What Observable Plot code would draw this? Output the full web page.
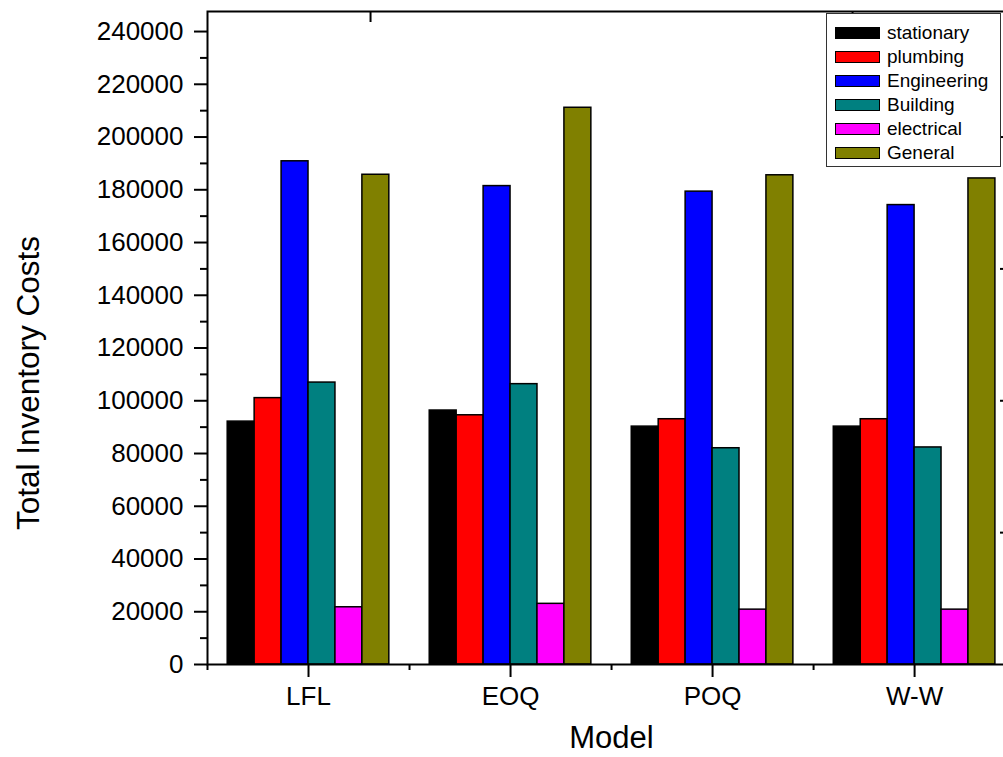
<!DOCTYPE html>
<html>
<head>
<meta charset="utf-8">
<script src="https://cdn.jsdelivr.net/npm/d3@7"></script>
<script src="https://cdn.jsdelivr.net/npm/@observablehq/plot@0.6"></script>
<style>
  html, body { margin: 0; padding: 0; background: white; }
  #wrap { position: relative; width: 1003px; height: 757px; overflow: hidden; background: white; font-family: "Liberation Sans", Arial, sans-serif; }
  #wrap svg { max-width: none !important; }
  #legend { position: absolute; left: 826px; top: 13px; width: 175px; height: 154px; border: 1px solid #333; background: white; box-sizing: border-box; padding-top: 7px; }
  .row { height: 24px; display: flex; align-items: center; }
  .sw { width: 45px; height: 12px; margin-left: 8px; margin-right: 7px; border: 1.5px solid black; box-sizing: border-box; }
  .lab { font-size: 19px; color: black; white-space: nowrap; }
</style>
</head>
<body>
<div id="wrap"></div>
<script>
const categories = ["LFL", "EOQ", "POQ", "W-W"];
const seriesNames = ["stationary", "plumbing", "Engineering", "Building", "electrical", "General"];
const seriesColors = ["#000000", "#ff0000", "#0000ff", "#008080", "#ff00ff", "#808000"];

const stationary  = [92100, 96300, 90200, 90200];
const plumbing    = [101000, 94500, 93000, 93000];
const engineering = [190800, 181400, 179300, 174200];
const building    = [106900, 106300, 82000, 82300];
const electrical  = [21700, 23000, 20800, 20800];
const general     = [185700, 211100, 185500, 184300];

const yMajorTicks = d3.range(0, 240001, 20000);
const yMinorTicks = d3.range(10000, 240000, 20000);
const yRightTicks = [50000, 100000, 150000, 200000];
const xTopTicks = [1.307, 3.693];

const seriesValues = [stationary, plumbing, engineering, building, electrical, general];
const groupWidth = 0.8;
const barW = groupWidth / seriesNames.length;

const rows = categories.flatMap((c, i) =>
  seriesValues.map((vals, j) => ({
    cat: i + 1, s: j, series: seriesNames[j], value: vals[i]
  }))
);

const chart = Plot.plot({
  width: 1010,
  height: 757,
  marginLeft: 207,
  marginRight: 5,
  marginTop: 11,
  marginBottom: 93,
  style: { fontFamily: "Liberation Sans, Arial, sans-serif", color: "black", background: "white", maxWidth: "none" },
  x: { type: "linear", domain: [0.5, 4.45], axis: null },
  y: { domain: [0, 247600], axis: null },
  color: { domain: seriesNames, range: seriesColors },
  marks: [
    Plot.rectY(rows, {
      x1: d => d.cat - groupWidth / 2 + d.s * barW,
      x2: d => d.cat - groupWidth / 2 + (d.s + 1) * barW,
      y: "value",
      fill: "series",
      stroke: "black",
      strokeWidth: 1.5
    }),
    Plot.frame({ stroke: "black", strokeWidth: 2 }),
    Plot.axisY({ ticks: yMajorTicks, tickSize: 13, strokeWidth: 2, text: null, label: null }),
    Plot.axisY({ ticks: yMinorTicks, tickSize: 7, strokeWidth: 2, text: null, label: null }),
    Plot.axisY({ ticks: yMajorTicks, tickSize: 0, tickPadding: 24, fontSize: 26, tickFormat: d3.format("d"), label: null }),
    Plot.axisY({ anchor: "right", ticks: yRightTicks, tickSize: -6, strokeWidth: 2, text: null, label: null }),
    Plot.axisX({ ticks: [1, 2, 3, 4], tickSize: 13, strokeWidth: 2, text: null, label: null }),
    Plot.axisX({ ticks: [0.5, 1.5, 2.5, 3.5], tickSize: 6, strokeWidth: 2, text: null, label: null }),
    Plot.axisX({ ticks: [1, 2, 3, 4], tickSize: 0, tickPadding: 22, fontSize: 26, tickFormat: i => categories[i - 1], label: null }),
    Plot.axisX({ anchor: "top", ticks: xTopTicks, tickSize: -10, strokeWidth: 2, text: null, label: null }),
    Plot.text(["Total Inventory Costs"], { frameAnchor: "left", dx: -179, dy: 45, rotate: -90, fontSize: 31.5, textAnchor: "middle", lineAnchor: "middle", fill: "black" }),
    Plot.text(["Model"], { frameAnchor: "bottom", dx: 5, dy: 74, fontSize: 31, textAnchor: "middle", lineAnchor: "middle", fill: "black" })
  ]
});

const wrap = document.getElementById("wrap");
wrap.appendChild(chart);

const legend = document.createElement("div");
legend.id = "legend";
seriesNames.forEach((name, j) => {
  const row = document.createElement("div");
  row.className = "row";
  const sw = document.createElement("div");
  sw.className = "sw";
  sw.style.background = seriesColors[j];
  const lab = document.createElement("span");
  lab.className = "lab";
  lab.textContent = name;
  row.appendChild(sw);
  row.appendChild(lab);
  legend.appendChild(row);
});
wrap.appendChild(legend);
</script>
</body>
</html>
